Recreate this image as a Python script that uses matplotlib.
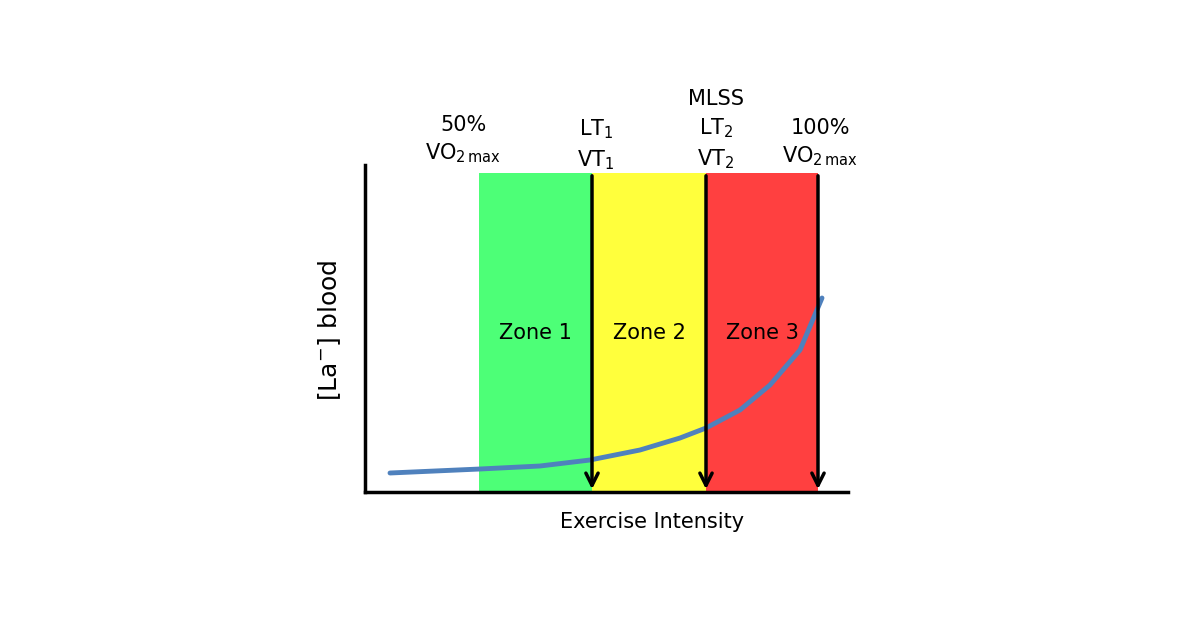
import matplotlib.pyplot as plt
import matplotlib.patches as mpatches

# pixel-space layout data
zone_names = ["Zone 1", "Zone 2", "Zone 3"]
zone_edges = [479, 592, 706, 818]
zone_colors = ["#4dff77", "#ffff3c", "#ff4040"]
curve_x = [390, 480, 540, 590, 640, 680, 706, 740, 770, 800, 822]
curve_y = [473, 469, 466, 460, 450, 438, 428, 410, 385, 350, 298]
marker_x = [592, 706, 818]

fig = plt.figure(figsize=(12, 6.27), dpi=100)
ax = fig.add_axes([0, 0, 1, 1])
ax.set_xlim(0, 1200)
ax.set_ylim(627, 0)
ax.axis("off")

top, bottom = 173, 492
for i, name in enumerate(zone_names):
    x0, x1 = zone_edges[i], zone_edges[i + 1]
    ax.add_patch(mpatches.Rectangle((x0, top), x1 - x0, bottom - top,
                                    color=zone_colors[i], lw=0, zorder=1))
    ax.text((x0 + x1) / 2, 333, name, ha="center", va="center", fontsize=15, zorder=5)

for x in marker_x:
    ax.annotate("", xy=(x, bottom), xytext=(x, top),
                arrowprops=dict(arrowstyle="->", lw=2.5, color="black",
                                mutation_scale=22), zorder=4)

ax.plot(curve_x, curve_y, color="#4f81bd", lw=3.5, zorder=3, solid_capstyle="round")

# axes lines
ax.plot([365, 365], [165, 492], color="black", lw=2.5, zorder=4)
ax.plot([365, 848], [492, 492], color="black", lw=2.5, zorder=4)

fs = 15
ax.text(463, 140, "50%\nVO$_{2\\,\\mathrm{max}}$", ha="center", va="center", fontsize=fs, linespacing=1.4)
ax.text(596, 145, "LT$_1$\nVT$_1$", ha="center", va="center", fontsize=fs, linespacing=1.4)
ax.text(716, 130, "MLSS\nLT$_2$\nVT$_2$", ha="center", va="center", fontsize=fs, linespacing=1.4)
ax.text(820, 143, "100%\nVO$_{2\\,\\mathrm{max}}$", ha="center", va="center", fontsize=fs, linespacing=1.4)
ax.text(330, 330, "[La$^{-}$] blood", ha="center", va="center", rotation=90, fontsize=18)
ax.text(652, 522, "Exercise Intensity", ha="center", va="center", fontsize=15)

fig.savefig("out.png", dpi=100)
